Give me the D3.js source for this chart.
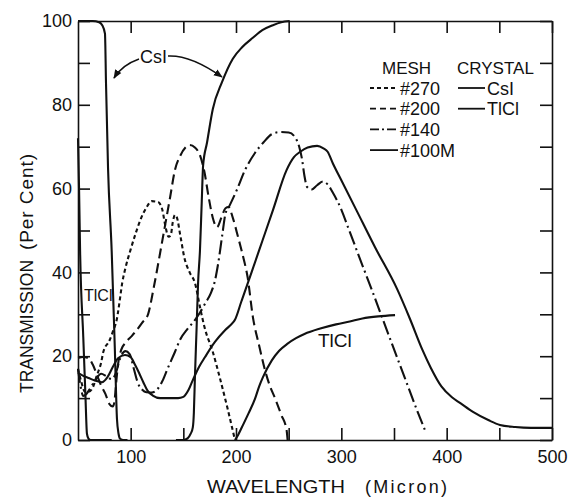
<!DOCTYPE html>
<html>
<head>
<meta charset="utf-8">
<script src="https://cdn.jsdelivr.net/npm/d3@7"></script>
<style>
body { margin: 0; background: #fff; }
text { font-family: "Liberation Sans", Arial, sans-serif; fill: #111; }
</style>
</head>
<body>
<svg id="chart" width="570" height="498"></svg>
<script>
// tick values
var xTickMarks = [100, 150, 200, 250, 300, 350, 400, 450, 500];
var yTickMarks = [0, 10, 20, 30, 40, 50, 60, 70, 80, 90, 100];

// mesh curves [wavelength (micron), transmission %]
var mesh270 = [[50,17],[53,14],[56.6,11.5],[60,11.5],[64,12.5],[68,15.5],[72,18.5],[74,21],[80,23.8],[83,25.8],[87,29],[90,34],[92,37.5],[95,41],[100,45.5],[105,49.5],[110,53],[115,55.5],[120,57],[126,56.8],[130,55],[133,51],[136,48.5],[138,48.8],[140,52],[142,53.7],[144,53],[147,49],[151,43.5],[156,40],[161,37.5],[166,31.5],[170,27],[178,21],[185,14.5],[192,7.5],[199,0]];
var mesh200 = [[50,19.6],[55,19.8],[60,19.5],[64,18],[68,15.5],[72,13],[76,11],[80,8.5],[83,8],[84.5,9],[86,13],[88,18],[91,21.5],[95,23.2],[101,24.8],[106,26.3],[111,28],[116.5,30],[122,36.5],[128,44.7],[133,51.7],[137.5,58],[142,64.4],[147,67.8],[152,69.8],[156,70.4],[161,69.8],[166,67.8],[170,64],[174,58],[178,53],[182,50.8],[186,53],[190,55.3],[193,55.6],[197,53],[202,48.4],[207,43.5],[211,38.9],[216,29.4],[222,22.5],[227.5,16.7],[232,13],[237,10],[243,6],[248,2.4],[249,0]];
var mesh140 = [[50,17],[52,13.5],[55,10.5],[58,11],[62,12.5],[67,14.5],[72,15.8],[77,15.2],[82,14.5],[86,16],[90,19.5],[95,21.2],[99,20.5],[103,17],[107,13.5],[111,12],[115,11.4],[120,11.3],[125,12],[130,14],[135,17],[142,21],[147,24],[154,26.5],[160,28.3],[166,30.5],[171,32.7],[176,35],[180,38],[183,42],[187,49],[190,54],[194,56],[201,59.8],[208.5,64.4],[218,68.5],[226,71],[234,73],[242,73.5],[250,73.4],[256,72.3],[260,70],[262.7,67],[265,63],[267.5,60.4],[272,59.8],[277,60.8],[282.6,61.7],[287,61],[292,59],[300,55],[306,51],[311,47.7],[315,45],[329,35.8],[345,25],[360,15],[372,7],[380,2]];
var mesh100M = [[50,16],[55,15.3],[60,14.8],[66,14.2],[72.8,13.8],[78,15],[83,17.4],[88,19.5],[94.6,20.3],[100,19.8],[104,18],[108,16],[112,13.8],[116,11.8],[121,10.6],[128,10],[145,10],[150,10.3],[155,12],[159,14.3],[165,17.5],[170.6,19.8],[180,23.4],[190,26.3],[197,28],[199,28.7],[205,33],[215,40.2],[225,47.5],[235,54.8],[248,64.4],[255,67.5],[261,68.8],[268,69.8],[277,70.2],[283,69.6],[287,68.8],[292,66],[300,62],[315,54.5],[332,46],[353,36],[365,29],[377,21.5],[385,17.2],[395,12.8],[405,10.2],[413,8.8],[425,6.7],[440,4.7],[450.6,3.6],[465,3.1],[480,2.9],[500,2.9]];

// crystal curves
var csiLow = [[50,100],[64,100],[70,99.7],[73,99],[75.6,97],[76.6,85],[78.5,65],[82,45],[85,21.5],[87,5],[88.5,1.5],[90,0.3],[93,0],[97,0]];
var csiHigh = [[143,0],[150,0],[154,0.4],[157,1.5],[159,3],[160,6.5],[161,15],[162.5,26],[164,37.5],[165.8,45.3],[167.5,57],[168.8,65.6],[172.5,71],[178,79],[186.7,85.4],[197,91],[206,93.8],[216,96],[225,97.8],[235,99],[243,99.7],[251,100]];
var tlclLow = [[50,72],[51,60],[52,45],[55,24.6],[57,11],[58.5,1.5],[60,0.3],[62,0],[82,0]];
var tlclHigh = [[199,0],[202,1.2],[205.7,3.1],[212,6.4],[218,9.8],[222,12.8],[225.6,15],[234,19],[241,21.3],[249,23],[257,24.3],[265,25.3],[280,26.6],[295,27.6],[308,28.3],[320,29],[335,29.5],[351,29.8]];

var meshNames = ["#270", "#200", "#140", "#100M"];
var meshDash = ["4,3", "10,5", "14,4,2,4", null];
var legendDash = ["4,3", "6,4", "9,3,2,3", null];
var crystalNames = ["CsI", "TlCl"];

var svg = d3.select("#chart");
var x = d3.scaleLinear().domain([50, 500]).range([78, 552]);
var y = d3.scaleLinear().domain([0, 100]).range([440, 21]);

var line = d3.line()
    .x(function(d) { return x(d[0]); })
    .y(function(d) { return y(d[1]); })
    .curve(d3.curveMonotoneX);

// axes, ticks pointing inward
function styleAxis(g) {
    g.selectAll("path.domain").attr("stroke", "#111").attr("stroke-width", 1.6);
    g.selectAll(".tick line").attr("stroke", "#111").attr("stroke-width", 1.6);
    g.selectAll("text").style("font-size", "18px").attr("fill", "#111")
        .style("font-family", "'Liberation Sans', Arial, sans-serif");
}

svg.append("g").attr("transform", "translate(0,440)")
    .call(d3.axisBottom(x).tickValues(xTickMarks).tickSizeInner(-12).tickSizeOuter(0).tickPadding(10)
        .tickFormat(function(d) { return d % 100 === 0 ? d : ""; }))
    .call(styleAxis);
svg.append("g").attr("transform", "translate(0,21)")
    .call(d3.axisTop(x).tickValues(xTickMarks).tickSizeInner(-12).tickSizeOuter(0).tickFormat(""))
    .call(styleAxis);
svg.append("g").attr("transform", "translate(78,0)")
    .call(d3.axisLeft(y).tickValues(yTickMarks).tickSizeInner(-12).tickSizeOuter(0).tickPadding(6)
        .tickFormat(function(d) { return d % 20 === 0 ? d : ""; }))
    .call(styleAxis);
svg.append("g").attr("transform", "translate(552,0)")
    .call(d3.axisRight(y).tickValues(yTickMarks).tickSizeInner(-12).tickSizeOuter(0).tickFormat(""))
    .call(styleAxis);

// curves
var meshData = [mesh270, mesh200, mesh140, mesh100M];
meshData.forEach(function(d, i) {
    svg.append("path")
        .attr("d", line(d))
        .attr("fill", "none")
        .attr("stroke", "#111")
        .attr("stroke-width", 2.1)
        .attr("stroke-dasharray", meshDash[i]);
});
[csiLow, csiHigh, tlclLow, tlclHigh].forEach(function(d) {
    svg.append("path")
        .attr("d", line(d))
        .attr("fill", "none")
        .attr("stroke", "#111")
        .attr("stroke-width", 2.1);
});

// curve labels
svg.append("text").attr("x", 140).attr("y", 63).style("font-size", "18px").text("CsI");
svg.append("text").attr("x", 84).attr("y", 301).style("font-size", "16px").text("TlCl");
svg.append("text").attr("x", 318).attr("y", 347).style("font-size", "19px").text("TlCl");

svg.append("defs").append("marker")
    .attr("id", "arrow").attr("viewBox", "0 0 10 10")
    .attr("refX", 9).attr("refY", 5)
    .attr("markerWidth", 9).attr("markerHeight", 9)
    .attr("markerUnits", "userSpaceOnUse")
    .attr("orient", "auto")
    .append("path").attr("d", "M0,1 L10,5 L0,9 Z").attr("fill", "#111");

svg.append("path").attr("d", "M139,59 Q122,65 114,78")
    .attr("fill", "none").attr("stroke", "#111").attr("stroke-width", 1.5)
    .attr("marker-end", "url(#arrow)");
svg.append("path").attr("d", "M168,56 C186,55 205,65 222,77")
    .attr("fill", "none").attr("stroke", "#111").attr("stroke-width", 1.5)
    .attr("marker-end", "url(#arrow)");

// legend
var lg = svg.append("g");
lg.append("text").attr("x", 382).attr("y", 74).style("font-size", "17px").text("MESH");
lg.append("text").attr("x", 457).attr("y", 74).style("font-size", "17px").text("CRYSTAL");
meshNames.forEach(function(name, i) {
    var ly = 88 + i * 20.7;
    lg.append("line").attr("x1", 370).attr("x2", 398).attr("y1", ly).attr("y2", ly)
        .attr("stroke", "#111").attr("stroke-width", 1.8)
        .attr("stroke-dasharray", legendDash[i]);
    lg.append("text").attr("x", 400).attr("y", ly + 6.5).style("font-size", "18px").text(name);
});
crystalNames.forEach(function(name, i) {
    var ly = 88 + i * 20.7;
    lg.append("line").attr("x1", 458).attr("x2", 485).attr("y1", ly).attr("y2", ly)
        .attr("stroke", "#111").attr("stroke-width", 1.8);
    lg.append("text").attr("x", 487).attr("y", ly + 6.5).style("font-size", "18px").text(name);
});

// axis titles
svg.append("text").attr("x", 207).attr("y", 493).style("font-size", "18px")
    .attr("textLength", 138).attr("lengthAdjust", "spacingAndGlyphs").text("WAVELENGTH");
svg.append("text").attr("x", 365).attr("y", 493).style("font-size", "18px")
    .attr("textLength", 82).attr("lengthAdjust", "spacing").text("(Micron)");

var yt = svg.append("g").attr("transform", "translate(33,0) rotate(-90)");
yt.append("text").attr("x", -393).attr("y", 0).style("font-size", "19px")
    .attr("textLength", 133).attr("lengthAdjust", "spacingAndGlyphs").text("TRANSMISSION");
yt.append("text").attr("x", -250).attr("y", 0).style("font-size", "19px")
    .attr("textLength", 96).attr("lengthAdjust", "spacing").text("(Per Cent)");
</script>
</body>
</html>
